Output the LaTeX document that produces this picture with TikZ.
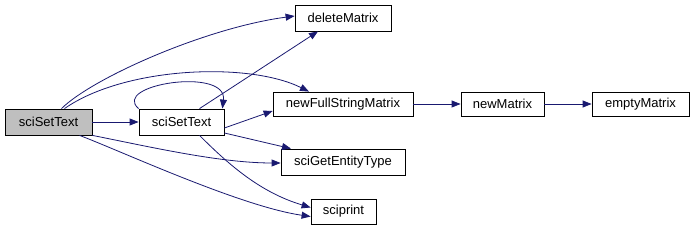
\documentclass[tikz,border=0pt]{standalone}
\usepackage{fontspec}
\setmainfont{Liberation Sans}
\usetikzlibrary{arrows.meta}
\definecolor{edgeblue}{RGB}{25,25,112}
\definecolor{rootgray}{RGB}{191,191,191}
\begin{document}
\begin{tikzpicture}[x=1pt, y=-1pt,
  fn/.style={draw=black, line width=0.8pt, inner sep=0pt, align=center,
    font=\fontsize{13}{15}\selectfont},
  call/.style={draw=edgeblue, line width=0.8pt,
    -{Triangle[length=9pt,width=7pt]}}]
% call graph of sciSetText, pixel units (y grows downwards)
\useasboundingbox (0,0) rectangle (693,227);

% --- functions ---
\node[fn, fill=rootgray, minimum width=87, minimum height=26] (root) at (48.5,122) {sciSetText};
\node[fn, minimum width=85, minimum height=26] (sst) at (181.5,122) {sciSetText};
\node[fn, minimum width=96, minimum height=26] (delm) at (343,18) {deleteMatrix};
\node[fn, minimum width=140, minimum height=24] (nfsm) at (343,104) {newFullStringMatrix};
\node[fn, minimum width=83, minimum height=24] (newm) at (502.5,104) {newMatrix};
\node[fn, minimum width=97, minimum height=24] (empm) at (640.5,104) {emptyMatrix};
\node[fn, minimum width=124, minimum height=26] (gety) at (343,162) {sciGetEntityType};
\node[fn, minimum width=65, minimum height=25] (sprt) at (343.5,211.5) {sciprint};

% --- calls from the root ---
\draw[call] ([xshift=13pt]root.north) .. controls +(30,-30) and +(-90,12) .. ([yshift=2pt]delm.west);
\draw[call] ([xshift=16pt]root.north) .. controls +(60,-42) and +(-60,-30) .. ([xshift=-34pt]nfsm.north);
\draw[call] (root) -- (sst);
\draw[call] (root.south east) .. controls +(60,12) and +(-60,0) .. ([yshift=-1pt]gety.west);
\draw[call] ([xshift=31pt]root.south) .. controls +(40,15) and +(-70,-10) .. ([yshift=-5pt]sprt.west);

% --- calls from sciSetText ---
\draw[call] (sst.north west) .. controls +(-28,-24) and +(5,-42) .. ([xshift=-2pt]sst.north east);
\draw[call] ([xshift=18pt]sst.north) -- ([xshift=-25pt]delm.south);
\draw[call] ([yshift=-6pt]sst.east) -- ([yshift=-7pt]nfsm.west);
\draw[call] ([yshift=-11pt]sst.east) -- ([xshift=-52pt]gety.north);
\draw[call] ([xshift=18pt]sst.south) .. controls +(30,30) and +(-50,-15) .. ([yshift=4pt]sprt.west);

% --- matrix chain ---
\draw[call] (nfsm) -- (newm);
\draw[call] (newm) -- (empm);
\end{tikzpicture}
\end{document}
